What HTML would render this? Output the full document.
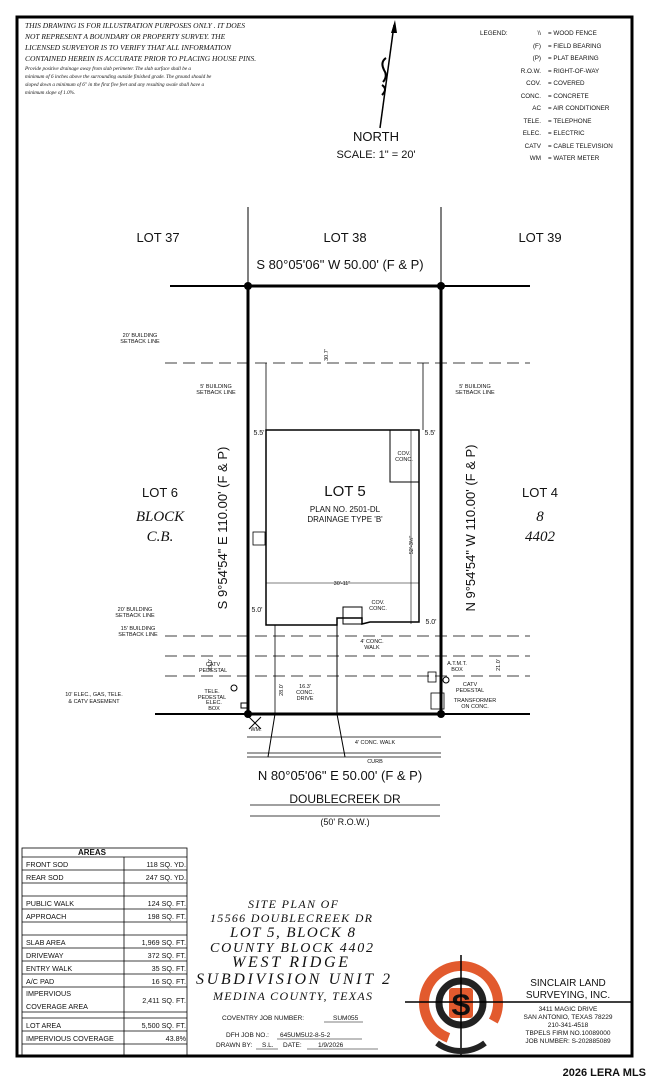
<!DOCTYPE html>
<html><head><meta charset="utf-8"><style>
html,body{margin:0;padding:0;background:#fff;}
svg{display:block;}
text{font-family:"Liberation Sans",sans-serif;fill:#111;}
.s{font-family:"Liberation Serif",serif;font-style:italic;}
</style></head><body>
<svg width="648" height="1080" viewBox="0 0 648 1080" xmlns="http://www.w3.org/2000/svg">
<rect x="0" y="0" width="648" height="1080" fill="#fff"/>
<rect x="17" y="17" width="615" height="1039" fill="none" stroke="#000" stroke-width="3"/>
<g class="s" font-size="7.5">
<text x="25" y="28" class="s">THIS DRAWING IS FOR ILLUSTRATION PURPOSES ONLY . IT DOES</text>
<text x="25" y="39" class="s">NOT REPRESENT A BOUNDARY OR PROPERTY SURVEY. THE</text>
<text x="25" y="50" class="s">LICENSED SURVEYOR IS TO VERIFY THAT ALL INFORMATION</text>
<text x="25" y="61" class="s">CONTAINED HEREIN IS ACCURATE PRIOR TO PLACING HOUSE PINS.</text>
</g>
<g font-size="5.2">
<text x="25" y="70" class="s">Provide positive drainage away from slab perimeter. The slab surface shall be a</text>
<text x="25" y="78" class="s">minimum of 6 inches above the surrounding outside finished grade. The ground should be</text>
<text x="25" y="86" class="s">sloped down a minimum of 6" in the first five feet and any resulting swale shall have a</text>
<text x="25" y="94" class="s">minimum slope of 1.0%.</text>
</g>
<line x1="394" y1="25" x2="380" y2="128" stroke="#000" stroke-width="1.5"/>
<polygon points="395,20 391,33 397,33" fill="#000"/>
<path d="M386,58 q-6,4 -2,12 q4,6 -1,12 M382,85 q6,4 0,10" fill="none" stroke="#000" stroke-width="2"/>
<text x="376" y="141" font-size="13" text-anchor="middle">NORTH</text>
<text x="376" y="158" font-size="11" text-anchor="middle">SCALE:  1"  =  20'</text>
<g font-size="6.3">
<text x="480" y="35">LEGEND:</text>
<g text-anchor="end">
<text x="541" y="35">\\</text><text x="541" y="48">(F)</text><text x="541" y="60">(P)</text><text x="541" y="73">R.O.W.</text><text x="541" y="85">COV.</text><text x="541" y="98">CONC.</text><text x="541" y="110">AC</text><text x="541" y="123">TELE.</text><text x="541" y="135">ELEC.</text><text x="541" y="148">CATV</text><text x="541" y="160">WM</text>
</g>
<text x="548" y="35">= WOOD FENCE</text><text x="548" y="48">= FIELD BEARING</text><text x="548" y="60">= PLAT BEARING</text><text x="548" y="73">= RIGHT-OF-WAY</text><text x="548" y="85">= COVERED</text><text x="548" y="98">= CONCRETE</text><text x="548" y="110">= AIR CONDITIONER</text><text x="548" y="123">= TELEPHONE</text><text x="548" y="135">= ELECTRIC</text><text x="548" y="148">= CABLE TELEVISION</text><text x="548" y="160">= WATER METER</text>
</g>
<g font-size="13" text-anchor="middle">
<text x="158" y="242">LOT 37</text><text x="345" y="242">LOT 38</text><text x="540" y="242">LOT 39</text>
<text x="340" y="269">S 80°05'06" W 50.00' (F &amp; P)</text>
<text x="160" y="497">LOT 6</text>
<text x="160" y="521" class="s" font-size="15">BLOCK</text>
<text x="160" y="541" class="s" font-size="15">C.B.</text>
<text x="540" y="497">LOT 4</text>
<text x="540" y="521" class="s" font-size="15">8</text>
<text x="540" y="541" class="s" font-size="15">4402</text>
</g>
<g stroke="#000" fill="none">
<line x1="248" y1="207" x2="248" y2="286" stroke-width="1"/>
<line x1="441" y1="207" x2="441" y2="286" stroke-width="1"/>
<line x1="170" y1="286" x2="530" y2="286" stroke-width="2"/>
<line x1="155" y1="714" x2="530" y2="714" stroke-width="2"/>
<rect x="248" y="286" width="193" height="428" stroke-width="3"/>
<g stroke-dasharray="12,6" stroke-width="0.8">
<line x1="165" y1="363" x2="530" y2="363"/>
<line x1="165" y1="636" x2="530" y2="636"/>
<line x1="165" y1="656" x2="530" y2="656"/>
<line x1="165" y1="676" x2="530" y2="676"/>
</g>
<path d="M266,430 L419,430 L419,622 L370,622 L362,624 L362,618 L337,618 L337,625 L266,625 Z" stroke-width="1.5"/>
<rect x="390" y="430" width="29" height="52" stroke-width="1"/>
<rect x="343" y="607" width="19" height="17" stroke-width="1"/>
<line x1="266" y1="363" x2="266" y2="430" stroke-width="0.8"/>
<line x1="423" y1="363" x2="423" y2="430" stroke-width="0.8"/>
<line x1="266" y1="583" x2="419" y2="583" stroke-width="0.6"/>
<line x1="411" y1="430" x2="411" y2="624" stroke-width="0.6"/>
<line x1="337" y1="625" x2="337" y2="714" stroke-width="1"/>
<line x1="275" y1="625" x2="275" y2="714" stroke-width="0.8"/>
<line x1="275" y1="714" x2="268" y2="757"/>
<line x1="337" y1="714" x2="345" y2="757"/>
<line x1="247" y1="737" x2="441" y2="737" stroke-width="0.8"/>
<line x1="247" y1="753" x2="441" y2="753" stroke-width="0.8"/>
<line x1="247" y1="757" x2="441" y2="757" stroke-width="0.8"/>
<line x1="250" y1="805" x2="440" y2="805" stroke-width="0.8"/>
<line x1="250" y1="816" x2="440" y2="816" stroke-width="0.8"/>
<rect x="253" y="532" width="12" height="13" stroke-width="0.8"/>
<rect x="428" y="672" width="8" height="10" stroke-width="0.8"/>
<rect x="431" y="693" width="13" height="16" stroke-width="0.8"/>
<circle cx="234" cy="688" r="3"/>
<circle cx="446" cy="680" r="3"/>
<rect x="241" y="703" width="6" height="5"/>
<path d="M249,717 l12,12 M261,717 l-12,12"/>
</g>
<g fill="#000"><circle cx="248" cy="286" r="4"/><circle cx="441" cy="286" r="4"/><circle cx="248" cy="714" r="4"/><circle cx="441" cy="714" r="4"/></g>
<g font-size="5.5" text-anchor="middle">
<text x="345" y="496" font-size="15">LOT 5</text>
<text x="345" y="512" font-size="8">PLAN NO. 2501-DL</text>
<text x="345" y="522" font-size="8">DRAINAGE TYPE 'B'</text>
<text x="404" y="455">COV.</text><text x="404" y="461">CONC.</text>
<text x="342" y="585">30'-11"</text>
<text x="259" y="435" font-size="7">5.5'</text><text x="430" y="435" font-size="7">5.5'</text>
<text x="257" y="612" font-size="7">5.0'</text><text x="431" y="624" font-size="7">5.0'</text>
<text x="378" y="604">COV.</text><text x="378" y="610">CONC.</text>
<text x="372" y="643">4' CONC.</text><text x="372" y="649">WALK</text>
<text x="305" y="688">16.3'</text><text x="305" y="694">CONC.</text><text x="305" y="700">DRIVE</text>
<text x="457" y="665">A.T.M.T.</text><text x="457" y="671">BOX</text>
<text x="470" y="686">CATV</text><text x="470" y="692">PEDESTAL</text>
<text x="475" y="702">TRANSFORMER</text><text x="475" y="708">ON CONC.</text>
<text x="213" y="666">CATV</text><text x="213" y="672">PEDESTAL</text>
<text x="212" y="693">TELE.</text><text x="212" y="699">PEDESTAL</text>
<text x="214" y="704">ELEC.</text><text x="214" y="710">BOX</text>
<text x="140" y="337">20' BUILDING</text><text x="140" y="343">SETBACK LINE</text>
<text x="216" y="388">5' BUILDING</text><text x="216" y="394">SETBACK LINE</text>
<text x="475" y="388">5' BUILDING</text><text x="475" y="394">SETBACK LINE</text>
<text x="135" y="611">20' BUILDING</text><text x="135" y="617">SETBACK LINE</text>
<text x="138" y="630">15' BUILDING</text><text x="138" y="636">SETBACK LINE</text>
<text x="94" y="696">10' ELEC., GAS, TELE.</text><text x="94" y="703">&amp; CATV EASEMENT</text>
<text x="256" y="731">WM.</text>
<text x="375" y="744">4' CONC. WALK</text>
<text x="375" y="763">CURB</text>
</g>
<text x="340" y="780" font-size="13" text-anchor="middle">N 80°05'06" E 50.00' (F &amp; P)</text>
<text x="345" y="803" font-size="12" text-anchor="middle">DOUBLECREEK DR</text>
<text x="345" y="825" font-size="9" text-anchor="middle">(50' R.O.W.)</text>
<text transform="translate(227,528) rotate(-90)" font-size="13" text-anchor="middle">S 9°54'54" E 110.00' (F &amp; P)</text>
<text transform="translate(475,528) rotate(-90)" font-size="13" text-anchor="middle">N 9°54'54" W 110.00' (F &amp; P)</text>
<text transform="translate(328,355) rotate(-90)" font-size="5.5" text-anchor="middle">30.7'</text>
<text transform="translate(413,545) rotate(-90)" font-size="5.5" text-anchor="middle">52'-3½"</text>
<text transform="translate(212,665) rotate(-90)" font-size="5.5" text-anchor="middle">23.0'</text>
<text transform="translate(283,690) rotate(-90)" font-size="5.5" text-anchor="middle">28.0'</text>
<text transform="translate(500,665) rotate(-90)" font-size="5.5" text-anchor="middle">21.0'</text>
<g stroke="#000" fill="none" stroke-width="0.8">
<rect x="22" y="848" width="165" height="208"/>
<line x1="124" y1="857" x2="124" y2="1056"/>
<line x1="22" y1="857" x2="187" y2="857"/>
<line x1="22" y1="870" x2="187" y2="870"/><line x1="22" y1="883" x2="187" y2="883"/>
<line x1="22" y1="896" x2="187" y2="896"/><line x1="22" y1="909" x2="187" y2="909"/><line x1="22" y1="922" x2="187" y2="922"/>
<line x1="22" y1="935" x2="187" y2="935"/><line x1="22" y1="948" x2="187" y2="948"/><line x1="22" y1="961" x2="187" y2="961"/>
<line x1="22" y1="974" x2="187" y2="974"/><line x1="22" y1="987" x2="187" y2="987"/><line x1="22" y1="1012" x2="187" y2="1012"/>
<line x1="22" y1="1018" x2="187" y2="1018"/><line x1="22" y1="1031" x2="187" y2="1031"/><line x1="22" y1="1044" x2="187" y2="1044"/>
</g>
<text x="92" y="855" font-size="8" text-anchor="middle" font-weight="bold">AREAS</text>
<g font-size="7.2">
<text x="26" y="867">FRONT SOD</text><text x="26" y="880">REAR SOD</text>
<text x="26" y="906">PUBLIC WALK</text><text x="26" y="919">APPROACH</text>
<text x="26" y="945">SLAB AREA</text><text x="26" y="958">DRIVEWAY</text><text x="26" y="971">ENTRY WALK</text><text x="26" y="984">A/C PAD</text>
<text x="26" y="996">IMPERVIOUS</text><text x="26" y="1009">COVERAGE AREA</text>
<text x="26" y="1028">LOT AREA</text><text x="26" y="1041">IMPERVIOUS COVERAGE</text>
</g>
<g font-size="7.2" text-anchor="end">
<text x="186" y="867">118 SQ. YD.</text><text x="186" y="880">247 SQ. YD.</text>
<text x="186" y="906">124 SQ. FT.</text><text x="186" y="919">198 SQ. FT.</text>
<text x="186" y="945">1,969 SQ. FT.</text><text x="186" y="958">372 SQ. FT.</text><text x="186" y="971">35 SQ. FT.</text><text x="186" y="984">16 SQ. FT.</text>
<text x="186" y="1003">2,411 SQ. FT.</text>
<text x="186" y="1028">5,500 SQ. FT.</text><text x="186" y="1041">43.8%</text>
</g>
<g>
<text x="248" y="908" font-size="12" class="s" textLength="90" lengthAdjust="spacing">SITE PLAN OF</text>
<text x="210" y="922" font-size="12" class="s" textLength="162" lengthAdjust="spacing">15566 DOUBLECREEK DR</text>
<text x="230" y="937" font-size="15" class="s" textLength="125" lengthAdjust="spacing">LOT 5, BLOCK 8</text>
<text x="210" y="952" font-size="14" class="s" textLength="163" lengthAdjust="spacing">COUNTY BLOCK 4402</text>
<text x="232" y="967" font-size="16" class="s" textLength="116" lengthAdjust="spacing">WEST RIDGE</text>
<text x="196" y="984" font-size="16" class="s" textLength="194" lengthAdjust="spacing">SUBDIVISION UNIT 2</text>
<text x="213" y="1000" font-size="12" class="s" textLength="159" lengthAdjust="spacing">MEDINA COUNTY, TEXAS</text>
</g>
<g font-size="6.5">
<text x="222" y="1020">COVENTRY JOB NUMBER: </text><text x="333" y="1020">SUM055</text>
<text x="226" y="1037">DFH JOB NO.: </text><text x="280" y="1037">645UM5U2-8-5-2</text>
<text x="216" y="1047">DRAWN BY: </text><text x="262" y="1047">S.L.</text><text x="283" y="1047">DATE: </text><text x="318" y="1047">1/9/2026</text>
</g>
<g stroke="#000" stroke-width="0.6"><line x1="324" y1="1022" x2="363" y2="1022"/><line x1="277" y1="1039" x2="362" y2="1039"/><line x1="256" y1="1049" x2="278" y2="1049"/><line x1="307" y1="1049" x2="378" y2="1049"/></g>
<circle cx="461" cy="1003" r="37" fill="none" stroke="#e25a2e" stroke-width="10" stroke-dasharray="180,52" transform="rotate(110 461 1003)"/>
<circle cx="461" cy="1003" r="22" fill="none" stroke="#222" stroke-width="7"/>
<rect x="449" y="988" width="24" height="30" rx="3" fill="#e25a2e"/>
<text x="461" y="1015" font-size="30" font-weight="bold" text-anchor="middle" fill="#222">S</text>
<line x1="461" y1="955" x2="461" y2="1056" stroke="#000" stroke-width="1.5"/>
<line x1="405" y1="1002" x2="632" y2="1002" stroke="#000" stroke-width="1.5"/>
<path d="M437,1043 A40,40 0 0 0 485,1043" fill="none" stroke="#222" stroke-width="6"/>
<g text-anchor="middle">
<text x="568" y="986" font-size="10">SINCLAIR LAND</text>
<text x="568" y="998" font-size="10">SURVEYING, INC.</text>
<text x="568" y="1011" font-size="6.5">3411 MAGIC DRIVE</text>
<text x="568" y="1019" font-size="6.5">SAN ANTONIO, TEXAS 78229</text>
<text x="568" y="1027" font-size="6.5">210-341-4518</text>
<text x="568" y="1035" font-size="6.5">TBPELS FIRM NO.10089000</text>
<text x="568" y="1043" font-size="6.5">JOB NUMBER: S-202885089</text>
</g>
<text x="646" y="1076" font-size="11" font-weight="bold" text-anchor="end" fill="#333">2026 LERA MLS</text>
</svg>
</body></html>
